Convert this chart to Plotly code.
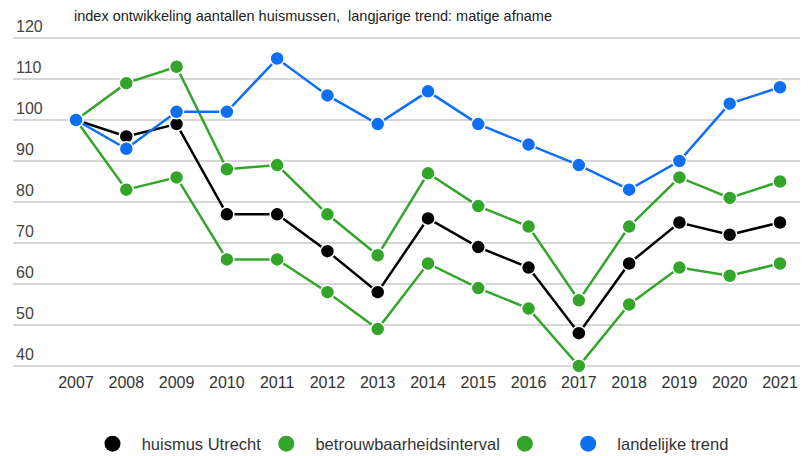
import plotly.graph_objects as go

years = list(range(2007, 2022))
huismus_utrecht = [100, 96, 99, 77, 77, 68, 58, 76, 69, 64, 48, 65, 75, 72, 75]
interval_boven = [100, 109, 113, 88, 89, 77, 67, 87, 79, 74, 56, 74, 86, 81, 85]
interval_onder = [100, 83, 86, 66, 66, 58, 49, 65, 59, 54, 40, 55, 64, 62, 65]
landelijke_trend = [100, 93, 102, 102, 115, 106, 99, 107, 99, 94, 89, 83, 90, 104, 108]
y_ticks = [40, 50, 60, 70, 80, 90, 100, 110, 120]
title_text = "index ontwikkeling aantallen huismussen,  langjarige trend: matige afname"

BLACK = "#000000"
GREEN = "#33a52b"
BLUE = "#0f6ff3"

NB = "\u00a0"
series = [
    ("huismus Utrecht", huismus_utrecht, BLACK),
    ("betrouwbaarheidsinterval", interval_boven, GREEN),
    ("", interval_onder, GREEN),
    ("landelijke trend", landelijke_trend, BLUE),
]

fig = go.Figure()
for i, (name, vals, col) in enumerate(series):
    fig.add_trace(go.Scatter(
        x=years, y=vals, mode="lines+markers", name=name,
        line=dict(color=col, width=2.5),
        marker=dict(color=col, size=14, line=dict(color="white", width=1.5)),
        showlegend=False, legendgroup=str(i), cliponaxis=False,
    ))
for i, (name, vals, col) in enumerate(series):
    label = NB * 2 + name if name else NB * 4
    fig.add_trace(go.Scatter(
        x=[None], y=[None], mode="markers", name=label,
        marker=dict(color=col, size=20),
        showlegend=True, legendgroup=str(i),
    ))

# page shows the figure with an 8px body margin
fig.update_layout(
    width=792, height=448,
    margin=dict(l=5, r=0, t=28, b=88, autoexpand=False),
    paper_bgcolor="white", plot_bgcolor="white",
    font=dict(family="Liberation Sans, Arial, sans-serif", color="#444444"),
    annotations=[dict(
        text=title_text, xref="paper", yref="paper", x=59 / 787, y=1.0,
        xanchor="left", yanchor="bottom", yshift=10, showarrow=False,
        font=dict(size=14.5, color="#222222"),
    )],
    xaxis=dict(
        range=[2005.747, 2021.398], tickmode="array", tickvals=years,
        ticktext=[str(y) for y in years], showgrid=False, zeroline=False,
        showline=False, ticks="", tickfont=dict(size=16, color="#333333"),
        automargin=False, ticklabelstandoff=3,
    ),
    yaxis=dict(
        range=[39.5, 120.5], tickmode="array", tickvals=y_ticks,
        ticktext=[str(v) for v in y_ticks], ticklabelposition="inside top",
        ticklabeloverflow="allow",
        showgrid=True, gridcolor="#d6d6d6", gridwidth=1.5, zeroline=False,
        showline=False, ticks="", tickfont=dict(size=16, color="#444444"),
        automargin=False,
    ),
    legend=dict(
        orientation="h", x=0.101, y=-0.176, xanchor="left", yanchor="top",
        font=dict(size=16.5, color="#333333"), itemsizing="trace",
    ),
)

fig.write_html("out.html")
